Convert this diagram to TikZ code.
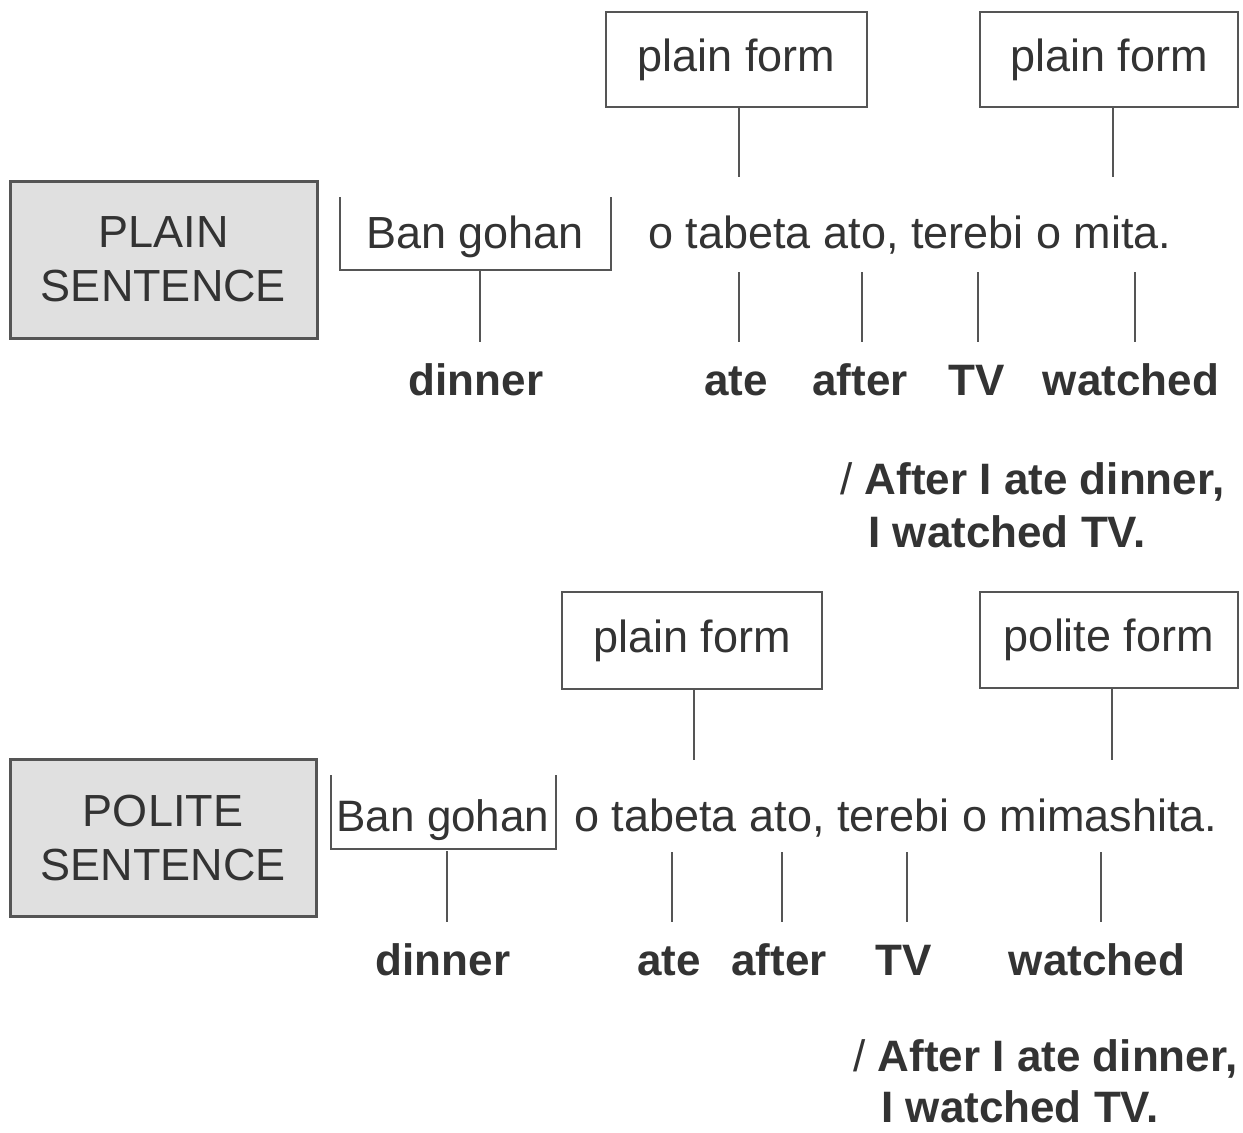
\documentclass[tikz,border=0pt]{standalone}
\usepackage{fontspec}
\setmainfont{Liberation Sans}
\definecolor{ink}{HTML}{333333}
\definecolor{rule}{HTML}{555555}
\definecolor{panel}{HTML}{E0E0E0}
\begin{document}
\begin{tikzpicture}[x=0.5pt,y=-0.5pt,
  every node/.style={text=ink,font=\fontsize{22.5}{27}\selectfont},
  formbox/.style={draw=rule,line width=1.1pt,fill=white,inner sep=0pt,align=center},
  sentbox/.style={draw=rule,line width=1.5pt,fill=panel,inner sep=0pt,align=center,
    minimum width=153.5pt,minimum height=78.5pt},
  jp/.style={anchor=base west,inner sep=0pt},
  gloss/.style={anchor=base,inner sep=0pt,font=\fontsize{22}{27}\selectfont\bfseries},
  trans/.style={anchor=base west,inner sep=0pt,font=\fontsize{22}{27}\selectfont\bfseries},
  link/.style={draw=rule,line width=1pt}]
\useasboundingbox (0,0) rectangle (1243,1132);

% ---------- plain sentence ----------
\node[sentbox] (plainS) at (163.5,259.5) {PLAIN\\SENTENCE};
\node[formbox,minimum width=130.5pt,minimum height=47.5pt] (pf1) at (736.5,59.5) {plain form};
\node[formbox,minimum width=129pt,minimum height=47.5pt] (pf2) at (1109,59.5) {plain form};

\node[anchor=base,inner sep=0pt] (ban1) at (475,248) {Ban gohan};
\coordinate (b1tl) at (340,197);
\coordinate (b1bl) at (340,270);
\coordinate (b1br) at (611,270);
\coordinate (b1tr) at (611,197);
\draw[link] (b1tl) -- (b1bl) -- (b1br) -- (b1tr);
\node[jp] (sent1) at (648,248) {o tabeta ato, terebi o mita.};

\node[gloss] (g1a) at (476,395) {dinner};
\node[gloss] (g1b) at (736,395) {ate};
\node[gloss] (g1c) at (860,395) {after};
\node[gloss] (g1d) at (977,395) {TV};
\node[gloss] (g1e) at (1131,395) {watched};

\coordinate (s1a) at (480,270);  \coordinate (e1a) at (480,342);
\coordinate (s1b) at (739,272);  \coordinate (e1b) at (739,342);
\coordinate (s1c) at (862,272);  \coordinate (e1c) at (862,342);
\coordinate (s1d) at (978,272);  \coordinate (e1d) at (978,342);
\coordinate (s1e) at (1135,272); \coordinate (e1e) at (1135,342);
\draw[link] (s1a) -- (e1a);
\draw[link] (s1b) -- (e1b);
\draw[link] (s1c) -- (e1c);
\draw[link] (s1d) -- (e1d);
\draw[link] (s1e) -- (e1e);

\coordinate (p1a) at (739,177);
\coordinate (p1b) at (1113,177);
\draw[link] (pf1.south -| p1a) -- (p1a);
\draw[link] (pf2.south -| p1b) -- (p1b);

\node[trans] (tr1a) at (840,494) {\mdseries/ \bfseries After I ate dinner,};
\node[trans] (tr1b) at (868,547) {I watched TV.};

% ---------- polite sentence ----------
\node[sentbox,minimum width=153pt] (politeS) at (163,837.5) {POLITE\\SENTENCE};
\node[formbox,minimum width=130pt,minimum height=48.5pt] (pf3) at (692,640.5) {plain form};
\node[formbox,minimum width=129pt,minimum height=48pt] (pol) at (1109,640) {polite form};

\node[anchor=base,inner sep=0pt,font=\fontsize{22}{27}\selectfont] (ban2) at (443,831) {Ban gohan};
\coordinate (b2tl) at (331,775);
\coordinate (b2bl) at (331,849);
\coordinate (b2br) at (556,849);
\coordinate (b2tr) at (556,775);
\draw[link] (b2tl) -- (b2bl) -- (b2br) -- (b2tr);
\node[jp] (sent2) at (574,831) {o tabeta ato, terebi o mimashita.};

\node[gloss] (g2a) at (443,975) {dinner};
\node[gloss] (g2b) at (669,975) {ate};
\node[gloss] (g2c) at (779,975) {after};
\node[gloss] (g2d) at (904,975) {TV};
\node[gloss] (g2e) at (1097,975) {watched};

\coordinate (s2a) at (447,851);  \coordinate (e2a) at (447,922);
\coordinate (s2b) at (672,852);  \coordinate (e2b) at (672,922);
\coordinate (s2c) at (782,852);  \coordinate (e2c) at (782,922);
\coordinate (s2d) at (907,852);  \coordinate (e2d) at (907,922);
\coordinate (s2e) at (1101,852); \coordinate (e2e) at (1101,922);
\draw[link] (s2a) -- (e2a);
\draw[link] (s2b) -- (e2b);
\draw[link] (s2c) -- (e2c);
\draw[link] (s2d) -- (e2d);
\draw[link] (s2e) -- (e2e);

\coordinate (p2a) at (694,760);
\coordinate (p2b) at (1112,760);
\draw[link] (pf3.south -| p2a) -- (p2a);
\draw[link] (pol.south -| p2b) -- (p2b);

\node[trans] (tr2a) at (853,1071) {\mdseries/ \bfseries After I ate dinner,};
\node[trans] (tr2b) at (881,1122) {I watched TV.};
\end{tikzpicture}
\end{document}
